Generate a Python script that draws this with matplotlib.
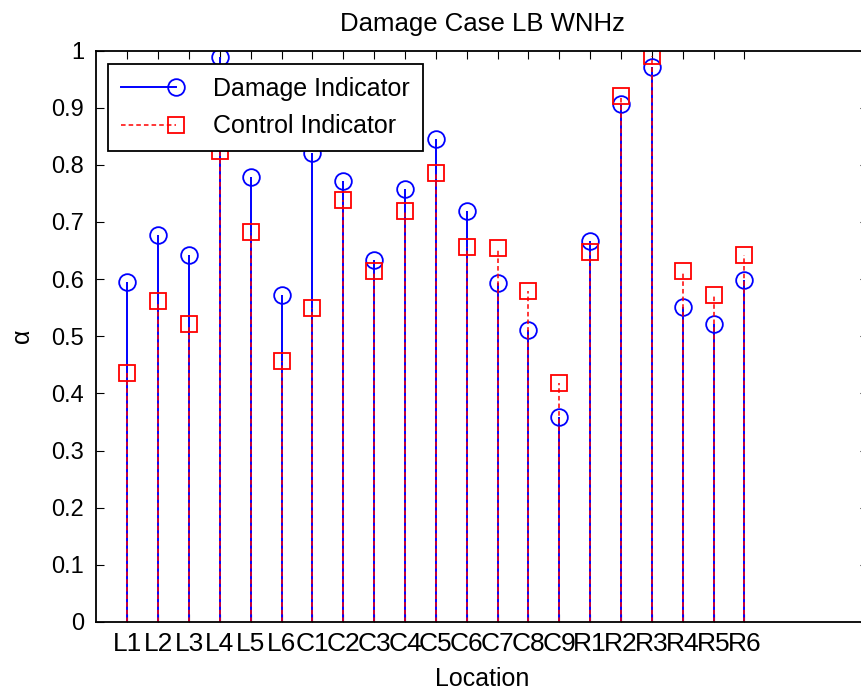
import matplotlib
matplotlib.use("Agg")
import matplotlib.pyplot as plt
from matplotlib.legend_handler import HandlerLine2D
from matplotlib.lines import Line2D
import numpy as np

plt.rcParams['font.family'] = ['Liberation Sans', 'DejaVu Sans']

locations = ["L1", "L2", "L3", "L4", "L5", "L6",
             "C1", "C2", "C3", "C4", "C5", "C6", "C7", "C8", "C9",
             "R1", "R2", "R3", "R4", "R5", "R6"]
damage = [0.595, 0.678, 0.643, 0.988, 0.779, 0.572,
          0.820, 0.772, 0.633, 0.757, 0.845, 0.720, 0.594, 0.511, 0.358,
          0.667, 0.907, 0.971, 0.552, 0.521, 0.598]
control = [0.435, 0.562, 0.521, 0.825, 0.682, 0.457,
           0.549, 0.738, 0.614, 0.719, 0.786, 0.657, 0.655, 0.580, 0.419,
           0.648, 0.920, 0.990, 0.615, 0.572, 0.643]
yticks = [0, 0.1, 0.2, 0.3, 0.4, 0.5, 0.6, 0.7, 0.8, 0.9, 1]
ytick_labels = ["0", "0.1", "0.2", "0.3", "0.4", "0.5", "0.6", "0.7", "0.8", "0.9", "1"]

x = np.arange(1, len(locations) + 1)

fig = plt.figure(figsize=(8.62, 6.96), dpi=100)
ax = fig.add_axes([96.5 / 862, (696 - 622) / 696, 771.3 / 862, 571.5 / 696])

m1, s1, b1 = ax.stem(x, damage, linefmt='-', markerfmt='o', basefmt=' ')
plt.setp(s1, color='#0000ff', linewidth=1.4)
plt.setp(m1, color='#0000ff', markerfacecolor='none', markersize=12, markeredgewidth=1.3)

m2, s2, b2 = ax.stem(x, control, linefmt='--', markerfmt='s', basefmt=' ')
plt.setp(s2, color='#ff0000', linewidth=1.1, linestyle=(0, (3, 2)))
plt.setp(m2, color='#ff0000', markerfacecolor='none', markersize=11.5, markeredgewidth=1.3)

ax.set_xlim(0, 25)
ax.set_ylim(0, 1)
ax.set_xticks(x)
ax.set_xticklabels(locations)
ax.set_yticks(yticks)
ax.set_yticklabels(ytick_labels)
ax.tick_params(axis='x', direction='in', top=True, length=6, labelsize=19, pad=7)
ax.tick_params(axis='y', direction='in', right=True, length=6, labelsize=17, pad=9)
for sp in ax.spines.values():
    sp.set_linewidth(1.3)

ax.set_title("Damage Case LB WNHz", fontsize=18.5, pad=14)
ax.set_xlabel("Location", fontsize=18, labelpad=8)
ax.set_ylabel("α", fontsize=18, labelpad=12)


class EndMarkerHandler(HandlerLine2D):
    def create_artists(self, legend, orig_handle, xdescent, ydescent,
                       width, height, fontsize, trans):
        artists = super().create_artists(legend, orig_handle, xdescent, ydescent,
                                          width, height, fontsize, trans)
        for a in artists:
            if isinstance(a, Line2D):
                xd = a.get_xdata()
                a.set_markevery([len(xd) - 1])
        return artists


h1 = Line2D([], [], color='#0000ff', linestyle='-', linewidth=1.4, marker='o',
            markersize=12, markerfacecolor='none', markeredgewidth=1.3)
h2 = Line2D([], [], color='#ff0000', linestyle=(0, (3, 2)), linewidth=1.1, marker='s',
            markersize=11.5, markerfacecolor='none', markeredgewidth=1.3)
leg = ax.legend([h1, h2], ["Damage Indicator", "Control Indicator"],
                loc='upper left', bbox_to_anchor=(0.0153, 0.976), borderaxespad=0,
                fontsize=18, numpoints=1, handlelength=2.2, handletextpad=1.5,
                borderpad=0.5, labelspacing=0.55, fancybox=False, framealpha=1,
                edgecolor='black',
                handler_map={Line2D: EndMarkerHandler()})
leg.get_frame().set_linewidth(1.3)

fig.savefig("out.png", dpi=100)
